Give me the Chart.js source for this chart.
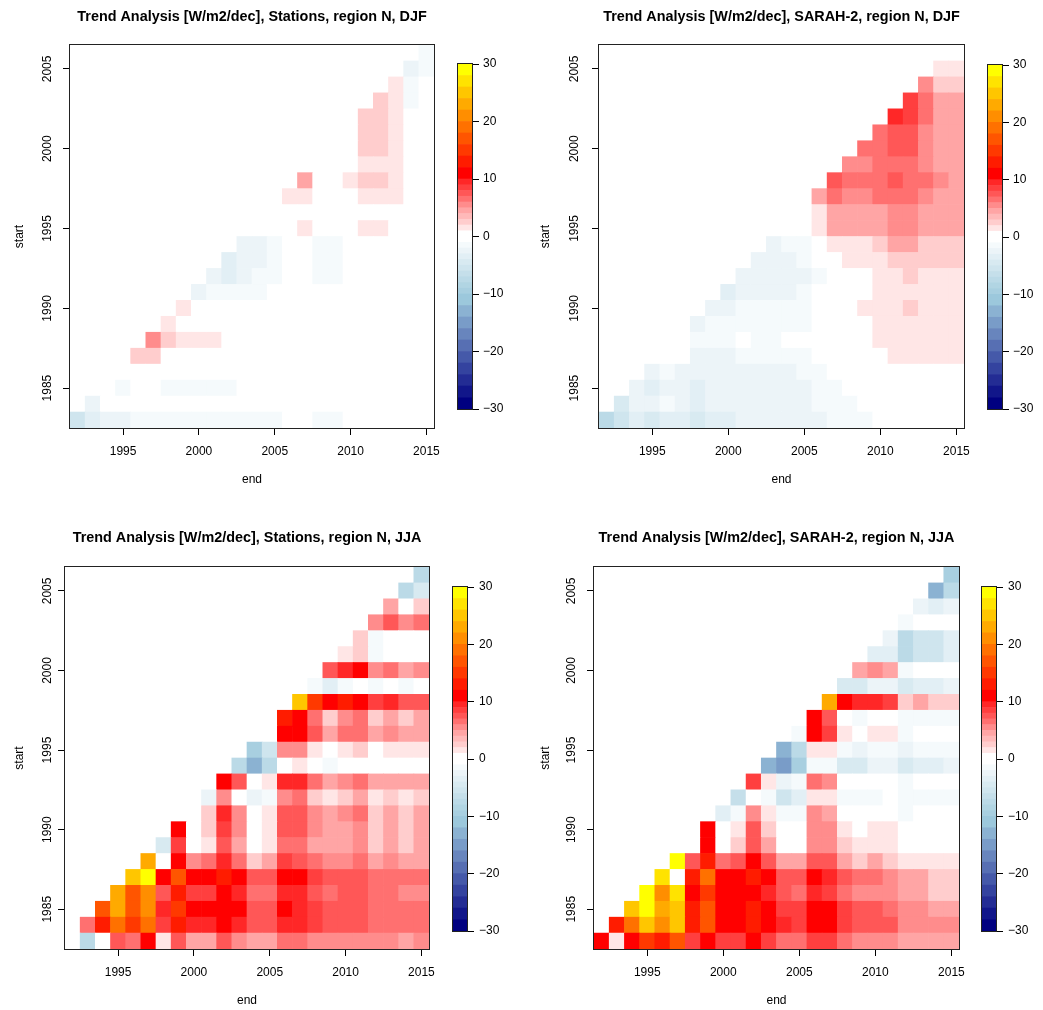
<!DOCTYPE html>
<html>
<head>
<meta charset="utf-8">
<script src="https://cdn.jsdelivr.net/npm/chart.js@4.4.0/dist/chart.umd.min.js"></script>
<style>
  body { margin: 0; background: #fff; width: 1043px; height: 1010px; position: relative; overflow: hidden; }
  canvas { position: absolute; }
</style>
</head>
<body>
<canvas id="djfStationsChart"></canvas>
<canvas id="djfSarahChart"></canvas>
<canvas id="jjaStationsChart"></canvas>
<canvas id="jjaSarahChart"></canvas>
<canvas id="barTL"></canvas>
<canvas id="barTR"></canvas>
<canvas id="barBL"></canvas>
<canvas id="barBR"></canvas>
<script>
Chart.defaults.font.family = '"Liberation Sans", Arial, Helvetica, sans-serif';
Chart.defaults.font.size = 12;
Chart.defaults.color = '#000';

// trend start years (rows) and end years (columns)
const startYears = [1983, 1984, 1985, 1986, 1987, 1988, 1989, 1990, 1991, 1992, 1993, 1994,
  1995, 1996, 1997, 1998, 1999, 2000, 2001, 2002, 2003, 2004, 2005, 2006];
const endYears = [1992, 1993, 1994, 1995, 1996, 1997, 1998, 1999, 2000, 2001, 2002, 2003,
  2004, 2005, 2006, 2007, 2008, 2009, 2010, 2011, 2012, 2013, 2014, 2015];
const xTicks = [1995, 2000, 2005, 2010, 2015];
const yTicks = [1985, 1990, 1995, 2000, 2005];
const colorBreaks = [-30, -28, -26, -24, -22, -20, -18, -16, -14, -12, -10, -9, -8, -7, -6, -5, -4, -3, -2, -1, 0,
  1, 2, 3, 4, 5, 6, 7, 8, 9, 10, 12, 14, 16, 18, 20, 22, 24, 26, 28, 30];
const colorTicks = [-30, -20, -10, 0, 10, 20, 30];

// one row per start year (1983 first); row values run from end = start + 9 to 2015
const djfStations = [
  [-5.5, -3.5, -2.5, -2.5, -1.5, -1.5, -1.5, -1.5, -1.5, -1.5, -1.5, -1.5, -1.5, -1.5, 0, 0, -1.5, -1.5, 0, 0, 0, 0, 0, 0],
  [-2.5, 0, 0, 0, 0, 0, 0, 0, 0, 0, 0, 0, 0, 0, 0, 0, 0, 0, 0, 0, 0, 0, 0],
  [0, -1.5, 0, 0, -1.5, -1.5, -1.5, -1.5, -1.5, 0, 0, 0, 0, 0, 0, 0, 0, 0, 0, 0, 0, 0],
  [0, 0, 0, 0, 0, 0, 0, 0, 0, 0, 0, 0, 0, 0, 0, 0, 0, 0, 0, 0, 0],
  [2.5, 2.5, 0, 0, 0, 0, 0, 0, 0, 0, 0, 0, 0, 0, 0, 0, 0, 0, 0, 0],
  [5.5, 2.5, 1.5, 1.5, 1.5, 0, 0, 0, 0, 0, 0, 0, 0, 0, 0, 0, 0, 0, 0],
  [1.5, 0, 0, 0, 0, 0, 0, 0, 0, 0, 0, 0, 0, 0, 0, 0, 0, 0],
  [1.5, 0, 0, 0, 0, 0, 0, 0, 0, 0, 0, 0, 0, 0, 0, 0, 0],
  [-2.5, -1.5, -1.5, -1.5, -1.5, 0, 0, 0, 0, 0, 0, 0, 0, 0, 0, 0],
  [-2.5, -3.5, -2.5, -1.5, -1.5, 0, 0, -1.5, -1.5, 0, 0, 0, 0, 0, 0],
  [-3.5, -2.5, -2.5, -1.5, 0, 0, -1.5, -1.5, 0, 0, 0, 0, 0, 0],
  [-2.5, -2.5, -1.5, 0, 0, -1.5, -1.5, 0, 0, 0, 0, 0, 0],
  [0, 0, 0, 1.5, 0, 0, 0, 1.5, 1.5, 0, 0, 0],
  [0, 0, 0, 0, 0, 0, 0, 0, 0, 0, 0],
  [1.5, 1.5, 0, 0, 0, 1.5, 1.5, 1.5, 0, 0],
  [4.5, 0, 0, 1.5, 2.5, 2.5, 1.5, 0, 0],
  [0, 0, 0, 1.5, 1.5, 1.5, 0, 0],
  [0, 0, 2.5, 2.5, 1.5, 0, 0],
  [0, 2.5, 2.5, 1.5, 0, 0],
  [2.5, 2.5, 1.5, 0, 0],
  [2.5, 1.5, -1.5, 0],
  [1.5, -1.5, 0],
  [-2.5, -1.5],
  [-1.5]
];

const djfSarah = [
  [-7, -5, -3.5, -4, -3.5, -3, -4, -3.5, -3.5, -2.5, -2.5, -2.5, -2.5, -2.5, -2, -1.5, -1.5, -1.5, 0, 0, 0, 0, 0, 0],
  [-4.5, -2, -2.5, -1.5, -2.5, -3, -2.5, -2.5, -2, -2, -2, -2, -2, -1.5, -1.5, -1.5, 0, 0, 0, 0, 0, 0, 0],
  [-2.5, -3, -2.5, -2.5, -3, -2.5, -2.5, -2.5, -2, -2, -2, -2, -1.5, -1.5, 0, 0, 0, 0, 0, 0, 0, 0],
  [-2, -1.5, -2, -2.5, -2.5, -2.5, -2, -2, -2, -2, -1.5, -1.5, 0, 0, 0, 0, 0, 0, 0, 0, 0],
  [0, 0, -2, -2, -2, -1.5, -1.5, -1.5, -1.5, -1.5, 0, 0, 0, 0, 0, 1.5, 1.5, 1.5, 1.5, 1.5],
  [0, -1.5, -1.5, -1.5, 0, -1.5, -1.5, 0, 0, 0, 0, 0, 0, 1.5, 1.5, 1.5, 1.5, 1.5, 1.5],
  [-2, -1.5, -1.5, -1.5, -1.5, -1.5, -1.5, -1.5, 0, 0, 0, 0, 1.5, 1.5, 1.5, 1.5, 1.5, 1.5],
  [-2, -2, -1.5, -1.5, -1.5, -1.5, -1.5, 0, 0, 0, 1.5, 1.5, 1.5, 2.5, 1.5, 1.5, 1.5],
  [-3.5, -2.5, -2, -2, -2, -1.5, 0, 0, 0, 0, 1.5, 1.5, 1.5, 1.5, 1.5, 1.5],
  [-2.5, -2.5, -2.5, -2, -2, -1.5, 0, 0, 0, 1.5, 1.5, 2.5, 1.5, 1.5, 1.5],
  [-2.5, -2, -2, -1.5, 0, 0, 1.5, 1.5, 1.5, 2.5, 2.5, 2.5, 2.5, 2.5],
  [-2, -1.5, -1.5, 0, 1.5, 1.5, 1.5, 2.5, 4.5, 4.5, 2.5, 2.5, 2.5],
  [0, 0, 1.5, 4.5, 4.5, 4.5, 4.5, 5.5, 5.5, 4.5, 4.5, 4.5],
  [0, 1.5, 4.5, 4.5, 4.5, 4.5, 5.5, 5.5, 4.5, 4.5, 4.5],
  [4.5, 6.5, 5.5, 5.5, 6.5, 6.5, 6.5, 5.5, 4.5, 4.5],
  [7.5, 6.5, 6.5, 6.5, 7.5, 6.5, 6.5, 5.5, 4.5],
  [5.5, 5.5, 6.5, 6.5, 6.5, 5.5, 4.5, 4.5],
  [6.5, 6.5, 7.5, 7.5, 5.5, 4.5, 4.5],
  [6.5, 7.5, 7.5, 5.5, 4.5, 4.5],
  [9.5, 8.5, 6.5, 4.5, 4.5],
  [8.5, 6.5, 4.5, 4.5],
  [5.5, 2.5, 2.5],
  [1.5, 1.5],
  [0]
];

const jjaStations = [
  [0, -7, 0, 7.5, 6.5, 10.5, 1.5, 7.5, 4.5, 4.5, 7.5, 5.5, 4.5, 4.5, 6.5, 6.5, 5.5, 5.5, 5.5, 5.5, 5.5, 5.5, 4.5, 5.5],
  [6.5, 12.5, 19, 14.5, 19, 8.5, 12.5, 9.5, 9.5, 11, 9.5, 7.5, 7.5, 9.5, 9.5, 8.5, 7.5, 7.5, 7.5, 6.5, 6.5, 6.5, 6.5],
  [17, 23, 17, 21, 9.5, 14.5, 10.5, 10.5, 11, 10.5, 7.5, 7.5, 10.5, 9.5, 8.5, 7.5, 7.5, 7.5, 6.5, 6.5, 6.5, 6.5],
  [23, 17, 21, 7.5, 12.5, 8.5, 8.5, 11, 9.5, 6.5, 6.5, 9.5, 9.5, 7.5, 6.5, 7.5, 7.5, 6.5, 6.5, 5.5, 5.5],
  [25, 29, 10.5, 17, 11, 11, 12.5, 10.5, 7.5, 7.5, 10.5, 10.5, 8.5, 7.5, 7.5, 7.5, 6.5, 6.5, 6.5, 6.5],
  [23, 0, 11, 5.5, 6.5, 9.5, 6.5, 2.5, 4.5, 8.5, 7.5, 6.5, 5.5, 5.5, 6.5, 4.5, 5.5, 4.5, 4.5],
  [-4.5, 8.5, 0, 1.5, 7.5, 4.5, 0, 1.5, 6.5, 6.5, 4.5, 4.5, 4.5, 5.5, 2.5, 4.5, 2.5, 4.5],
  [10.5, 0, 2.5, 8.5, 5.5, 0, 1.5, 7.5, 7.5, 5.5, 4.5, 4.5, 5.5, 2.5, 4.5, 2.5, 4.5],
  [0, 2.5, 9.5, 5.5, 0, 1.5, 7.5, 7.5, 5.5, 4.5, 5.5, 6.5, 2.5, 4.5, 2.5, 4.5],
  [-2.5, 5.5, 0, -2, -1, 5.5, 6.5, 2.5, 1.5, 2.5, 4.5, 1.5, 2.5, 1.5, 2.5],
  [10.5, 7.5, 0, 1.5, 9.5, 9.5, 6.5, 4.5, 5.5, 6.5, 4.5, 4.5, 4.5, 4.5],
  [-7, -12, -7, 0, 1.5, 0, -1, 0, 0, 0, 0, 0, 0],
  [-9, -5.5, 5.5, 5.5, 1.5, 0, 1.5, 2.5, 0, 1.5, 1.5, 1.5],
  [0, 11, 10.5, 7.5, 4.5, 6.5, 7, 4.5, 5.5, 4.5, 4.5],
  [12.5, 10.5, 6.5, 2.5, 5.5, 6.5, 2.5, 4.5, 2.5, 4.5],
  [25, 14.5, 11, 12.5, 11, 8.5, 9.5, 7.5, 7.5],
  [-1.5, -3, -1, 0, -1.5, 0, -1, 0],
  [7.5, 9.5, 10.5, 5.5, 6.5, 4.5, 5.5],
  [1.5, 2.5, -1.5, 0, 0, 0],
  [2.5, -1.5, 0, 0, 0],
  [5.5, 7.5, 5.5, 6.5],
  [4.5, 0, 2.5],
  [-7, -4.5],
  [-7]
];

const jjaSarah = [
  [10.5, 1.5, 10.5, 14.5, 12.5, 17, 8.5, 11, 8.5, 8.5, 10.5, 8.5, 6.5, 6.5, 8.5, 8.5, 6.5, 5.5, 5.5, 5.5, 4.5, 4.5, 4.5, 4.5],
  [12.5, 19, 25, 21, 25, 12.5, 17, 10.5, 10.5, 12.5, 11, 9.5, 8.5, 10.5, 10.5, 8.5, 7.5, 7.5, 7.5, 5.5, 5.5, 5.5, 5.5],
  [25, 29, 23, 26, 12.5, 17, 10.5, 10.5, 12.5, 11, 8.5, 8.5, 10.5, 10.5, 8.5, 7.5, 7.5, 6.5, 5.5, 5.5, 4.5, 4.5],
  [29, 21, 27, 11, 14.5, 10.5, 10.5, 11, 9.5, 7.5, 6.5, 9.5, 8.5, 6.5, 5.5, 5.5, 5.5, 4.5, 4.5, 2.5, 2.5],
  [27, 0, 12.5, 19, 11, 11, 12.5, 10.5, 7.5, 7.5, 10.5, 9.5, 7.5, 6.5, 6.5, 5.5, 4.5, 4.5, 2.5, 2.5],
  [29, 7.5, 12.5, 6.5, 7.5, 10.5, 7.5, 4.5, 4.5, 7.5, 7.5, 4.5, 2.5, 4.5, 2.5, 1.5, 1.5, 1.5, 1.5],
  [0, 10.5, 0, 2.5, 7.5, 4.5, 0, 0, 5.5, 5.5, 2.5, 1.5, 1.5, 1.5, 0, 0, 0, 0],
  [10.5, 0, 1.5, 7.5, 2.5, 0, 0, 5.5, 5.5, 1.5, 0, 1.5, 1.5, 0, 0, 0, 0],
  [-3.5, -1, 5.5, 1.5, -1.5, -1, 5.5, 4.5, 0, 0, 0, 0, -1, 0, 0, 0],
  [-6.5, 0, -1.5, -5, -3.5, 1.5, 1.5, -1, -1, -1, 0, -1.5, -1, -1.5, -1],
  [8.5, 1.5, -2, -1, 6.5, 5.5, 0, 0, 0, 0, -1, 0, 0, 0],
  [-12, -14, -9, -1, -1, -4.5, -4.5, -2.5, -2.5, -4, -3, -3, -2.5],
  [-12, -7, 1.5, 1.5, -1.5, -2, -1.5, -1, -2, -1.5, -1.5, -1.5],
  [-1, 10.5, 8.5, 1.5, 0, 1.5, 1.5, -1, 0, 0, 0],
  [10.5, 7.5, 0, -1, 0, 0, -1.5, -1, -1, -1],
  [23, 11, 9.5, 9.5, 8.5, 2.5, 4.5, 2.5, 2.5],
  [-4.5, -4.5, -2.5, -2.5, -4.5, -3.5, -3.5, -2.5],
  [4.5, 5.5, 4.5, -1, 0, 0, 0],
  [-3.5, -3.5, -7, -5, -5, -3.5],
  [-2.5, -7.5, -5, -5, -3.5],
  [-1.5, 0, 0, 0],
  [-2.5, -3, -2],
  [-12.5, -7.5],
  [-9.5]
];

// palette: one colour per bin of colorBreaks
const redLevels = [255, 230, 205, 185, 165, 140, 112, 87, 63, 39];
function mix(a, b, t) {
  return 'rgb(' + a.map((c, i) => Math.round(c + (b[i] - c) * t)).join(',') + ')';
}
const palette = colorBreaks.slice(0, -1).map((lo, i) => {
  if (i < 10) return mix([156, 200, 220], [0, 0, 128], (9 - i) / 9);
  if (i < 20) return mix([255, 255, 255], [158, 202, 220], (19 - i) / 10);
  if (i < 30) { const g = redLevels[i - 20]; return 'rgb(255,' + g + ',' + g + ')'; }
  return 'rgb(255,' + Math.round(255 * (i - 30) / 9) + ',0)';
});
function colorFor(v) {
  let i = colorBreaks.findIndex(b => v <= b) - 1;
  i = Math.max(0, Math.min(palette.length - 1, i));
  return palette[i];
}

const framePlugin = {
  id: 'frame',
  afterDatasetsDraw(chart) {
    const { ctx, chartArea: a } = chart;
    ctx.save();
    ctx.strokeStyle = '#222';
    ctx.lineWidth = 1;
    ctx.strokeRect(Math.round(a.left) - 0.5, Math.round(a.top) - 0.5,
      Math.round(a.right - a.left) + 1, Math.round(a.bottom - a.top) + 1);
    ctx.restore();
  }
};

// R draws y tick labels parallel to the axis
const sideTicks = {
  id: 'sideTicks',
  afterDraw(chart, args, opts) {
    const ctx = chart.ctx, y = chart.scales.y;
    ctx.save();
    ctx.fillStyle = '#000';
    ctx.font = '12px "Liberation Sans", Arial, sans-serif';
    ctx.textAlign = 'center';
    ctx.textBaseline = 'middle';
    y.ticks.forEach(t => {
      ctx.save();
      ctx.translate(opts.x, y.getPixelForValue(t.value));
      ctx.rotate(-Math.PI / 2);
      ctx.fillText(String(t.value), 0, 0);
      ctx.restore();
    });
    ctx.restore();
  }
};

function place(cv, x, y, w, h) {
  cv.width = w; cv.height = h;
  cv.style.left = x + 'px'; cv.style.top = y + 'px';
  cv.style.width = w + 'px'; cv.style.height = h + 'px';
}

function heatmap(id, rows, titleText, L) {
  const cv = document.getElementById(id);
  const [cx, cy, cw, ch] = L.canvas;
  const [pl, pt, pr, pb] = L.plot;
  place(cv, cx, cy, cw, ch);
  const titleLH = 14.4 * 1.2, lh = 12 * 1.2;
  const titleTop = L.titleY - cy - titleLH / 2;
  const datasets = rows.map((vals, i) => ({
    data: vals.map((v, j) => ({ x: endYears[i + j], y: [startYears[i] - 0.5, startYears[i] + 0.5] })),
    backgroundColor: vals.map(colorFor),
    borderWidth: 0,
    grouped: false,
    barPercentage: 1,
    categoryPercentage: 1
  }));
  new Chart(cv, {
    type: 'bar',
    data: { datasets },
    plugins: [framePlugin, sideTicks],
    options: {
      responsive: false,
      animation: false,
      events: [],
      layout: { padding: { left: 0, top: 0, bottom: 0, right: cx + cw - pr } },
      plugins: {
        legend: { display: false },
        tooltip: { enabled: false },
        sideTicks: { x: L.yLabelX - cx },
        title: {
          display: true, text: titleText, fullSize: false, color: '#000',
          font: { size: 14.4, weight: 'bold' },
          padding: { top: titleTop, bottom: pt - cy - titleLH - titleTop }
        }
      },
      scales: {
        x: {
          type: 'linear', min: 1991.5, max: 2015.5, offset: false,
          afterBuildTicks: s => { s.ticks = xTicks.map(v => ({ value: v })); },
          afterFit: s => { s.height = cy + ch - pb; },
          grid: { offset: false, drawOnChartArea: false, drawTicks: true, tickLength: 7, color: '#000' },
          border: { display: false },
          ticks: { color: '#000', padding: 9, maxRotation: 0, autoSkip: false, callback: v => String(v) },
          title: { display: true, text: 'end', color: '#000', padding: { top: 0, bottom: cy + ch - L.endY - lh / 2 } }
        },
        y: {
          type: 'linear', min: 1982.5, max: 2006.5,
          afterBuildTicks: s => { s.ticks = yTicks.map(v => ({ value: v })); },
          afterFit: s => { s.width = pl - cx; },
          grid: { drawOnChartArea: false, drawTicks: true, tickLength: 7, color: '#000' },
          border: { display: false },
          ticks: { display: false },
          title: { display: true, text: 'start', color: '#000', padding: { top: L.startX - cx - lh / 2, bottom: 0 } }
        }
      }
    }
  });
}

function colorbar(id, L) {
  const cv = document.getElementById(id);
  const [cx, cy, cw, ch] = L.canvas;
  const [bl, bt, br, bb] = L.bar;
  place(cv, cx, cy, cw, ch);
  const datasets = palette.map((c, i) => ({
    data: [[colorBreaks[i], colorBreaks[i + 1]]],
    backgroundColor: c,
    borderWidth: 0,
    grouped: false,
    barPercentage: 1,
    categoryPercentage: 1
  }));
  new Chart(cv, {
    type: 'bar',
    data: { labels: [''], datasets },
    plugins: [framePlugin],
    options: {
      responsive: false,
      animation: false,
      events: [],
      layout: { padding: { left: bl - cx, top: bt - cy, bottom: cy + ch - bb, right: 0 } },
      plugins: { legend: { display: false }, tooltip: { enabled: false } },
      scales: {
        x: { display: false },
        y: {
          position: 'right', min: -30, max: 30,
          afterBuildTicks: s => { s.ticks = colorTicks.map(v => ({ value: v })); },
          afterFit: s => { s.width = cx + cw - br; },
          grid: { drawOnChartArea: false, drawTicks: true, tickLength: 7, color: '#000' },
          border: { display: false },
          ticks: { color: '#000', padding: L.pad, callback: v => v < 0 ? '\u2212' + Math.abs(v) : String(v) }
        }
      }
    }
  });
}

heatmap('djfStationsChart', djfStations, 'Trend Analysis [W/m2/dec], Stations, region N, DJF',
  { canvas: [0, 0, 452, 500], plot: [70, 45, 434, 428], titleY: 17.5, endY: 480, startX: 20, yLabelX: 48 });
heatmap('djfSarahChart', djfSarah, 'Trend Analysis [W/m2/dec], SARAH-2, region N, DJF',
  { canvas: [529, 0, 453, 500], plot: [599, 45, 964, 428], titleY: 17.5, endY: 480, startX: 546, yLabelX: 575 });
heatmap('jjaStationsChart', jjaStations, 'Trend Analysis [W/m2/dec], Stations, region N, JJA',
  { canvas: [0, 520, 447, 490], plot: [65, 567, 429, 949], titleY: 538.5, endY: 1001, startX: 20, yLabelX: 48 });
heatmap('jjaSarahChart', jjaSarah, 'Trend Analysis [W/m2/dec], SARAH-2, region N, JJA',
  { canvas: [524, 520, 452, 490], plot: [594, 567, 959, 949], titleY: 538.5, endY: 1001, startX: 546, yLabelX: 572 });

colorbar('barTL', { canvas: [450, 50, 60, 375], bar: [458, 64, 472, 409], pad: 4 });
colorbar('barTR', { canvas: [980, 50, 63, 375], bar: [988, 65, 1002, 409], pad: 4 });
colorbar('barBL', { canvas: [445, 572, 60, 375], bar: [453, 587, 467, 931], pad: 5 });
colorbar('barBR', { canvas: [974, 572, 69, 375], bar: [982, 587, 996, 931], pad: 5 });
</script>
</body>
</html>
